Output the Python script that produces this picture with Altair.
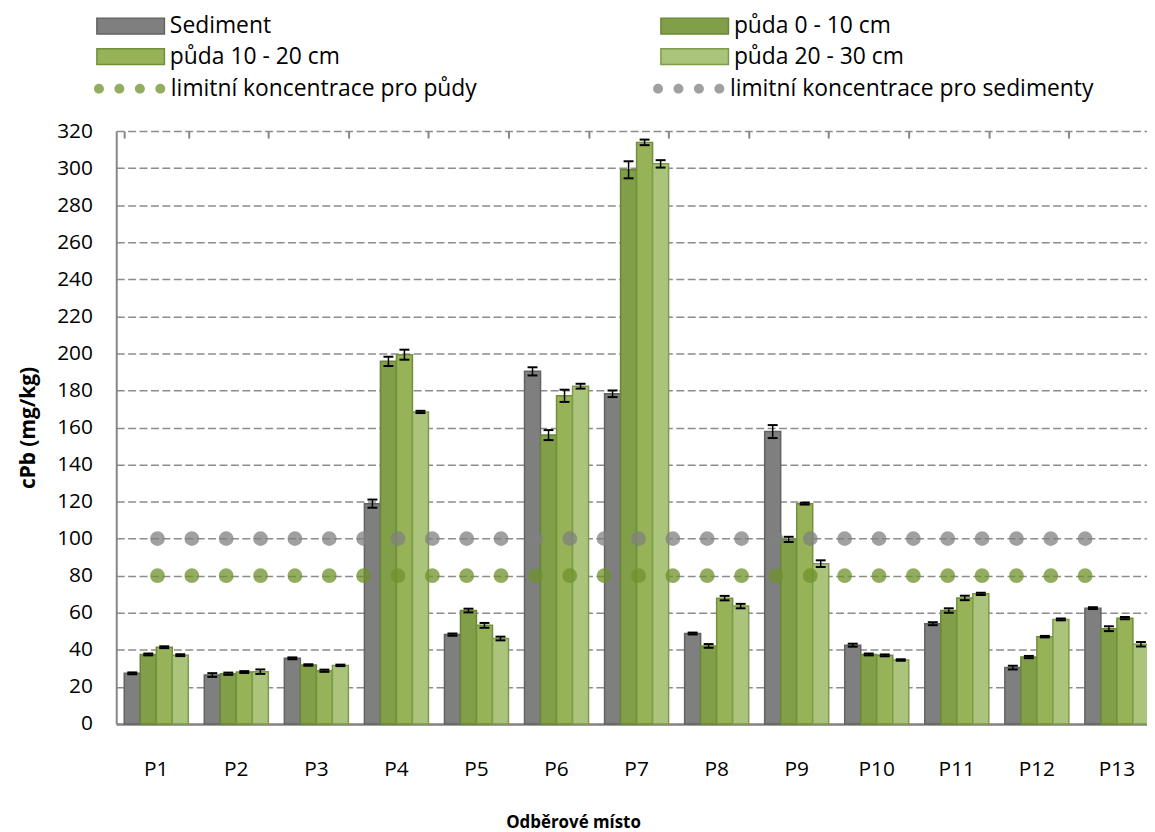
import altair as alt
import pandas as pd

# ---------------- data ----------------
categories = ["P1", "P2", "P3", "P4", "P5", "P6", "P7", "P8", "P9", "P10", "P11", "P12", "P13"]
bar_series = ["Sediment", "půda 0 - 10 cm", "půda 10 - 20 cm", "půda 20 - 30 cm"]
limit_series = ["limitní koncentrace pro půdy", "limitní koncentrace pro sedimenty"]

sediment = [27.3, 26.4, 35.4, 118.9, 48.2, 190.3, 178.2, 48.8, 157.8, 42.5, 54.1, 30.4, 62.5]
puda_0_10 = [37.5, 27.1, 31.8, 195.7, 61.2, 155.9, 299.1, 42.1, 99.6, 37.5, 61.2, 36.1, 51.4]
puda_10_20 = [41.4, 28.0, 28.7, 199.3, 53.2, 177.1, 313.9, 67.9, 118.9, 37.0, 68.0, 47.1, 57.1]
puda_20_30 = [37.1, 28.2, 31.6, 168.4, 46.1, 182.3, 302.3, 63.6, 86.5, 34.5, 70.2, 56.4, 43.0]

sediment_err = [0.5, 1.0, 0.5, 2.2, 0.6, 2.2, 1.8, 0.5, 3.5, 0.8, 0.8, 1.0, 0.5]
puda_0_10_err = [0.5, 0.6, 0.4, 2.5, 1.0, 2.7, 4.6, 1.0, 1.4, 0.5, 1.2, 0.6, 1.3]
puda_10_20_err = [0.5, 0.5, 0.6, 2.7, 1.3, 3.3, 1.5, 1.2, 0.5, 0.5, 1.2, 0.4, 0.6]
puda_20_30_err = [0.5, 1.2, 0.4, 0.6, 1.0, 1.3, 2.0, 1.2, 1.8, 0.4, 0.6, 0.5, 1.2]

marker_slots = [1, 2, 3, 4, 5, 6, 7, 8, 9, 10, 11, 12, 13, 14,
                15, 16, 17, 18, 19, 20, 21, 22, 23, 24, 25, 26, 27, 28]
soil_limit = 80
sediment_limit = 100

y_ticks = [0, 20, 40, 60, 80, 100, 120, 140, 160, 180, 200, 220, 240, 260, 280, 300, 320]

# ---------------- tables ----------------
rows = []
for s, vals, errs in zip(bar_series,
                         [sediment, puda_0_10, puda_10_20, puda_20_30],
                         [sediment_err, puda_0_10_err, puda_10_20_err, puda_20_30_err]):
    for c, v, e in zip(categories, vals, errs):
        rows.append({"cat": c, "series": s, "value": v, "lo": v - e, "hi": v + e})
bars_df = pd.DataFrame(rows)

lim_rows = []
for name, val in zip(limit_series, [soil_limit, sediment_limit]):
    for k in marker_slots:
        lim_rows.append({"slot": k, "series": name, "value": val})
lim_df = pd.DataFrame(lim_rows)

# ---------------- style ----------------
FONT = "Open Sans"
bar_fills = ["#7f7f7f", "#819e48", "#97b257", "#abc47c"]
bar_strokes = ["#626262", "#6a8735", "#728f3b", "#7e9b4a"]
limit_fills = ["#6f922b", "#808080"]

# symbol paths (symbolSize 256 -> 1 unit = 8 px)
rect_path = "M-4.25,-1H4.25V1H-4.25Z"


def circ(cx, r):
    return (f"M{cx - r:.3f},0A{r:.3f},{r:.3f},0,1,0,{cx + r:.3f},0"
            f"A{r:.3f},{r:.3f},0,1,0,{cx - r:.3f},0Z")


dots_path = "".join(circ(cx, 0.625) for cx in [-3.86, -1.29, 1.29, 3.86])

y_title = "cPb (mg/kg)"
x_title = "Odběrové místo"

x_scale = alt.Scale(domain=categories, range=[0, 1048], paddingInner=0.2, paddingOuter=0.1)
y_scale = alt.Scale(domain=[0, 320], nice=False, zero=True)
xoff_scale = alt.Scale(domain=bar_series, paddingInner=0, paddingOuter=0)

legend_a = alt.Legend(title=None, orient="none", legendX=-20, legendY=-117.5, columns=2,
                      direction="horizontal", columnPadding=319, rowPadding=7,
                      symbolType=rect_path, symbolSize=256, symbolOffset=23,
                      symbolStrokeWidth=1.5, labelOffset=28, labelFont=FONT, labelFontSize=23,
                      labelColor="black", labelLimit=600, padding=0)
legend_b = alt.Legend(title=None, orient="none", legendX=-23, legendY=-54.5, columns=2,
                      direction="horizontal", columnPadding=176, rowPadding=7,
                      symbolType=dots_path, symbolSize=256, symbolOffset=25,
                      symbolStrokeWidth=0, symbolOpacity=0.75, labelOffset=30, labelFont=FONT,
                      labelFontSize=23, labelColor="black", labelLimit=600, padding=0)

x_main_axis = alt.Axis(title=x_title, labelAngle=0, ticks=False, tickSize=0, labelPadding=35,
                       titlePadding=35, titleX=460, domainColor="#868686", domainWidth=2.5,
                       labelFontSize=21, titleFontSize=17, titleFontWeight="bold", grid=False)
y_axis = alt.Axis(values=y_ticks, grid=True, gridDash=[8, 3.5], gridColor="#8c8c8c", gridWidth=1.5,
                  ticks=False, tickSize=0, labelPadding=24, domainColor="#868686", domainWidth=2,
                  labelFontSize=21, titleFontSize=21, titleFontWeight="bold", titlePadding=18,
                  labelOverlap=False, title=y_title)

bars = alt.Chart(bars_df).mark_bar(strokeWidth=1.5).encode(
    x=alt.X("cat:N", scale=x_scale, axis=x_main_axis),
    xOffset=alt.XOffset("series:N", scale=xoff_scale),
    y=alt.Y("value:Q", scale=y_scale, axis=y_axis),
    color=alt.Color("series:N", scale=alt.Scale(domain=bar_series, range=bar_fills), legend=legend_a),
    stroke=alt.Stroke("series:N", scale=alt.Scale(domain=bar_series, range=bar_strokes), legend=legend_a),
)

tick_axis = alt.Axis(title=None, labels=False, domain=False, grid=False, ticks=True, tickSize=7,
                     tickWidth=2, tickColor="#868686", tickBand="extent", offset=-7)

rules = alt.Chart(bars_df).mark_rule(color="black", strokeWidth=1.5).encode(
    x=alt.X("cat:N", scale=x_scale, axis=tick_axis),
    xOffset=alt.XOffset("series:N", scale=xoff_scale),
    y=alt.Y("lo:Q", scale=y_scale, axis=y_axis),
    y2="hi:Q",
)

caps_lo = alt.Chart(bars_df).mark_tick(color="black", thickness=2, size=10, opacity=1).encode(
    x=alt.X("cat:N", scale=x_scale, axis=None),
    xOffset=alt.XOffset("series:N", scale=xoff_scale),
    y=alt.Y("lo:Q", scale=y_scale, axis=y_axis),
)
caps_hi = alt.Chart(bars_df).mark_tick(color="black", thickness=2, size=10, opacity=1).encode(
    x=alt.X("cat:N", scale=x_scale, axis=None),
    xOffset=alt.XOffset("series:N", scale=xoff_scale),
    y=alt.Y("hi:Q", scale=y_scale, axis=y_axis),
)

markers = alt.Chart(lim_df).mark_circle(size=220, opacity=0.75).encode(
    x=alt.X("slot:Q", scale=alt.Scale(domain=[-0.2, 29.8], nice=False, zero=False), axis=None),
    y=alt.Y("value:Q", scale=y_scale, axis=y_axis),
    fill=alt.Fill("series:N", scale=alt.Scale(domain=limit_series, range=limit_fills), legend=legend_b),
)

chart = (
    alt.layer(bars, rules, caps_lo, caps_hi, markers)
    .resolve_scale(x="independent")
    .resolve_axis(x="independent")
    .properties(width=1038, height=597,
                padding={"left": 109, "top": 121, "right": 0, "bottom": 120},
                autosize=alt.AutoSizeParams(type="none"))
    .configure_view(stroke=None)
    .configure_axis(labelFont=FONT, titleFont=FONT, labelColor="black", titleColor="black")
    .configure_axisY(titleFontSize=21, titleFontWeight="bold")
    .configure_legend(symbolOpacity=1)
)

chart.save("out.html", embed_options={"renderer": "svg", "actions": False})
